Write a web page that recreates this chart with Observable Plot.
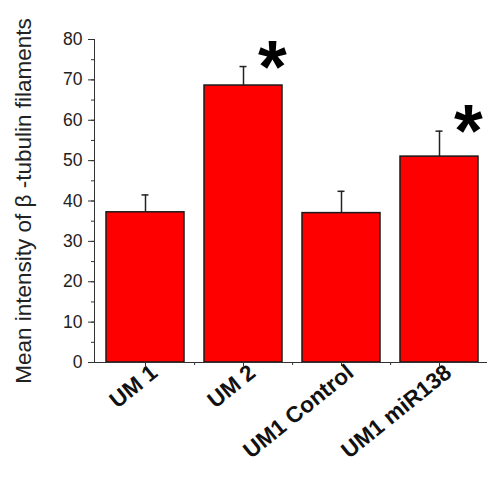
<!DOCTYPE html>
<html>
<head>
<meta charset="utf-8">
<script src="https://cdn.jsdelivr.net/npm/d3@7"></script>
<script src="https://cdn.jsdelivr.net/npm/@observablehq/plot@0.6"></script>
<style>
  html, body { margin: 0; padding: 0; background: #fff; }
</style>
</head>
<body>
<div id="chart"></div>
<script>
const categories = ["UM 1", "UM 2", "UM1 Control", "UM1 miR138"];
const means = [37.2, 68.6, 37.0, 51.0];
const errors = [4.3, 4.7, 5.4, 6.3];
const significance = ["", "*", "", "*"];
const yTicks = [0, 10, 20, 30, 40, 50, 60, 70, 80];
const yMinorTicks = [0, 5, 10, 15, 20, 25, 30, 35, 40, 45, 50, 55, 60, 65, 70, 75, 80];
const yLabel = "Mean intensity of β -tubulin filaments";

const data = categories.map((c, i) => ({
  cat: c, mean: means[i], upper: means[i] + errors[i], sig: significance[i]
}));

const W = 487, H = 479, ML = 94, MR = 0;
const step = (W - ML - MR) / categories.length;

const chart = Plot.plot({
  width: W, height: H,
  marginLeft: ML, marginRight: MR, marginTop: 39, marginBottom: 117,
  style: { fontFamily: "'Liberation Sans', Arial, sans-serif", background: "white", overflow: "visible" },
  x: { domain: categories, paddingInner: 0.2, paddingOuter: 0.1, align: 0.6, label: null },
  y: { domain: [0, 80], label: null },
  marks: [
    Plot.barY(data, { x: "cat", y: "mean", fill: "#ff0000", stroke: "#1a1a1a", strokeWidth: 1.5 }),
    Plot.ruleX(data, { x: "cat", y1: "mean", y2: "upper", stroke: "#222", strokeWidth: 1.5 }),
    Plot.tickY(data, { x: "cat", y: "upper", stroke: "#222", strokeWidth: 1.5, insetLeft: 35.5, insetRight: 35.5 }),
    Plot.text(data.filter(d => d.sig), { x: "cat", y: "upper", text: "sig", dx: 29, dy: 1.5, fontSize: 74, fontWeight: "bold", fill: "black" }),
    Plot.frame({ anchor: "left", stroke: "#333" }),
    Plot.frame({ anchor: "bottom", stroke: "#333" }),
    Plot.axisY(yMinorTicks, { tickSize: 3, tickFormat: () => "", stroke: "#333", label: null }),
    Plot.axisY(yTicks, { tickSize: 6, tickPadding: 6, fontSize: 17.5, fill: "#222", stroke: "#333", label: null }),
    Plot.text([yLabel], { frameAnchor: "left", textAnchor: "middle", rotate: -90, dx: -71, fontSize: 22.5, fill: "#222" }),
    Plot.axisX({ tickSize: 4, tickFormat: () => "", stroke: "#333", label: null }),
    Plot.axisX({ tickSize: 0, tickPadding: 7, dx: 9, tickRotate: -39, fontSize: 22.5, fontWeight: "bold", fill: "#111", label: null }),
    Plot.axisX(categories.slice(0, 3), { tickSize: 3, dx: step / 2, tickFormat: () => "", stroke: "#333", label: null })
  ]
});
document.getElementById("chart").appendChild(chart);
</script>
</body>
</html>
